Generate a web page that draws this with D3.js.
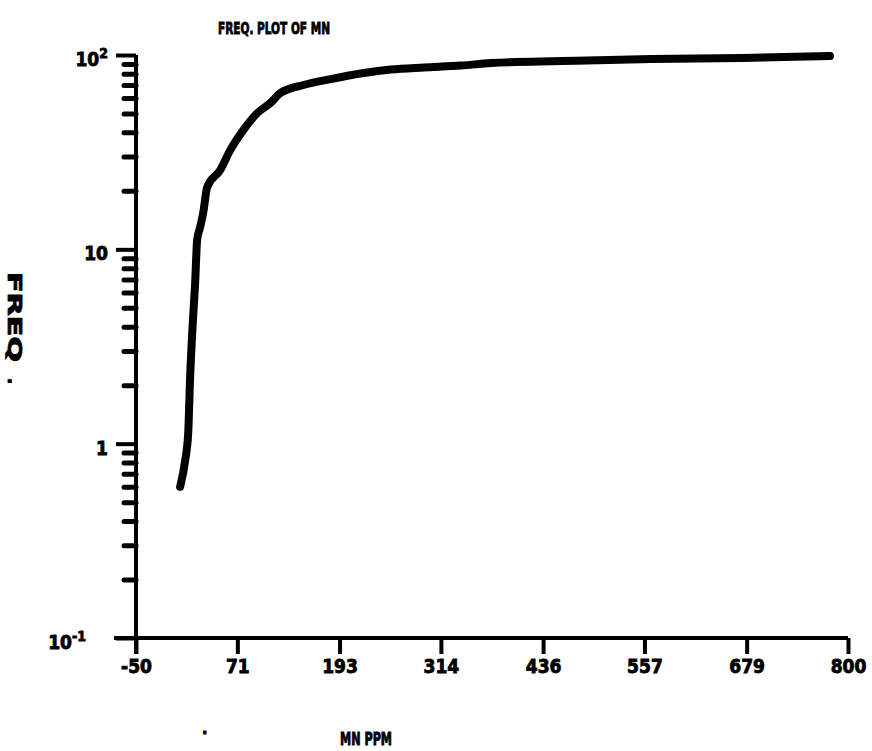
<!DOCTYPE html>
<html>
<head>
<meta charset="utf-8">
<script src="https://cdn.jsdelivr.net/npm/d3@7"></script>
<style>
  body { margin: 0; background: #fff; }
  text { font-family: "DejaVu Sans Condensed", "DejaVu Sans", sans-serif; font-weight: bold; fill: #000; stroke: #000; stroke-width: 0.8px; }
</style>
</head>
<body>
<div id="chart"></div>
<script>
// cumulative frequency of Mn (ppm)
var mnPpm = [2.7, 8.7, 12.3, 14.6, 18.2, 20.6, 23, 26.6, 30.2, 35, 50.6, 62.5, 78.1, 94.9, 110.4, 122.4,
             149.9, 182.3, 221.8, 254.1, 293.6, 337.9, 373.8, 457.6, 565.4, 673.1, 778.5];
var freqPct = [0.6, 0.82, 1.13, 2.2, 4.5, 6.7, 11.2, 13, 15.4, 20.9, 25.6, 32.4, 41.1, 50.3, 56.6, 63.7,
               70.1, 75.2, 80.8, 84.2, 86.3, 88.2, 91, 93.1, 95.4, 96.5, 98.8];

var xTicks = [-50, 71, 193, 314, 436, 557, 679, 800];
var xTickLabels = ["-50", "71", "193", "314", "436", "557", "679", "800"];
var yTicks = [0.1, 1, 10, 100];
var yTickLabels = [["10", "-1"], ["1", ""], ["10", ""], ["10", "2"]];

var W = 872, H = 751;

var svg = d3.select("#chart").append("svg")
    .attr("width", W)
    .attr("height", H);

var x = d3.scaleLinear().domain([-50, 800]).range([136, 848]);
var y = d3.scaleLog().domain([0.1, 100]).range([638, 55]);

// minor ticks on the log axis
var minor = [];
[0.1, 1, 10].forEach(function (d) {
    for (var k = 2; k <= 9; k++) minor.push(d * k);
});

svg.append("g")
    .attr("class", "y_minor")
    .attr("transform", "translate(" + x(-50) + ",0)")
    .call(d3.axisLeft(y).tickValues(minor).tickSize(12).tickFormat(""))
    .call(function (g) { g.select(".domain").remove(); })
    .selectAll("line")
    .attr("stroke", "#000")
    .attr("stroke-width", 5)
    .attr("stroke-linecap", "round");

// y axis
var yAxis = d3.axisLeft(y)
    .tickValues(yTicks)
    .tickSize(20)
    .tickPadding(6)
    .tickSizeOuter(0);

var gy = svg.append("g")
    .attr("class", "y_axis")
    .attr("transform", "translate(" + x(-50) + ",0)")
    .call(yAxis);

gy.select(".domain").attr("stroke", "#000").attr("stroke-width", 4)
    .attr("d", "M0," + y(100) + "V" + (y(0.1) + 16));
gy.selectAll("line").attr("stroke", "#000").attr("stroke-width", 4);
gy.selectAll(".tick text")
    .attr("font-size", 19)
    .attr("dy", "0.55em")
    .each(function (d) {
        var t = d3.select(this).text("");
        var lab = yTickLabels[yTicks.indexOf(d)];
        t.append("tspan").text(lab[0]);
        if (lab[1]) {
            t.append("tspan").attr("dy", "-0.6em").attr("font-size", 14).text(lab[1]);
        }
    });
gy.selectAll(".tick text").attr("x", function (d) { return d === 0.1 ? -50 : -28; });

// x axis
var xAxis = d3.axisBottom(x)
    .tickValues(xTicks)
    .tickSize(16)
    .tickPadding(6)
    .tickSizeOuter(0)
    .tickFormat(function (d, i) { return xTickLabels[i]; });

var gx = svg.append("g")
    .attr("class", "x_axis")
    .attr("transform", "translate(0," + y(0.1) + ")")
    .call(xAxis);

gx.select(".domain").attr("stroke", "#000").attr("stroke-width", 4)
    .attr("d", "M" + (x(-50) - 22) + ",0H" + x(800));
gx.selectAll("line").attr("stroke", "#000").attr("stroke-width", 4);
gx.selectAll(".tick text").attr("font-size", 19);

// curve
var line = d3.line()
    .x(function (d, i) { return x(mnPpm[i]); })
    .y(function (d) { return y(d); })
    .curve(d3.curveMonotoneX);

svg.append("path")
    .datum(freqPct)
    .attr("d", line)
    .attr("fill", "none")
    .attr("stroke", "#000")
    .attr("stroke-width", 8)
    .attr("stroke-linecap", "round")
    .attr("stroke-linejoin", "round");

// titles
svg.append("text")
    .text("FREQ. PLOT OF MN")
    .attr("x", 218)
    .attr("y", 34)
    .attr("font-size", 16)
    .attr("textLength", 112)
    .attr("lengthAdjust", "spacingAndGlyphs");

svg.append("text")
    .text("MN PPM")
    .attr("x", 340)
    .attr("y", 745)
    .attr("font-size", 17)
    .attr("textLength", 52)
    .attr("lengthAdjust", "spacingAndGlyphs");

svg.append("text")
    .text("FREQ")
    .attr("transform", "translate(8,272) rotate(90)")
    .attr("font-size", 20)
    .attr("textLength", 90)
    .attr("lengthAdjust", "spacingAndGlyphs");

svg.append("text")
    .text(".")
    .attr("transform", "translate(8,378) rotate(90)")
    .attr("font-size", 18);

svg.append("text")
    .text(".")
    .attr("x", 202)
    .attr("y", 734)
    .attr("font-size", 16);
</script>
</body>
</html>
